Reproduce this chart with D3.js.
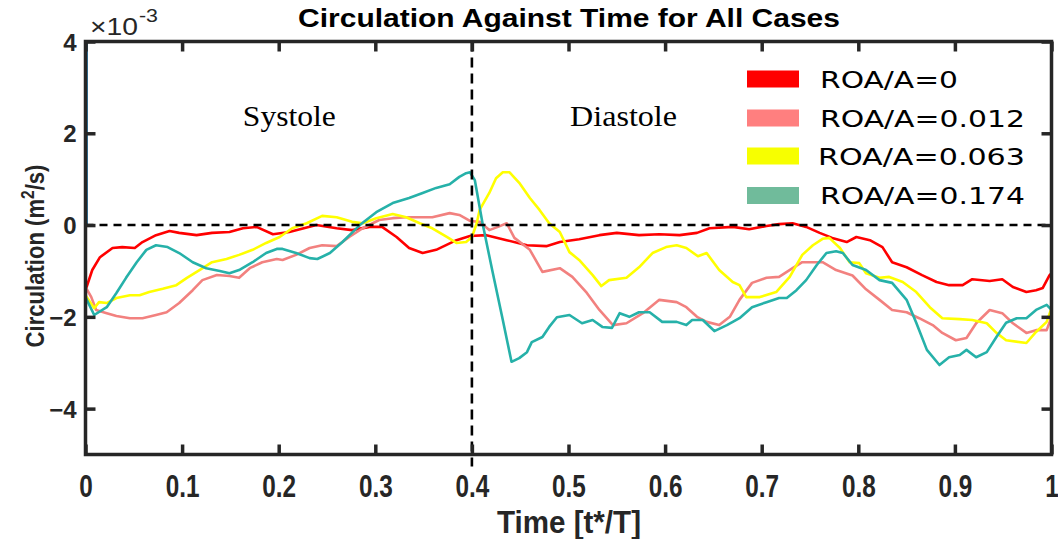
<!DOCTYPE html>
<html>
<head>
<meta charset="utf-8">
<script src="https://cdn.jsdelivr.net/npm/d3@7"></script>
<style>
  html, body { margin: 0; padding: 0; background: #ffffff; }
  svg { display: block; }
</style>
</head>
<body>
<svg id="chart" width="1058" height="539"></svg>
<script>
// ---------------- data (circulation in units of 1e-3 m^2/s vs t*/T) ----------------
const seriesNames = ["ROA/A=0", "ROA/A=0.012", "ROA/A=0.063", "ROA/A=0.174"];
const lineColors  = ["#ff0000", "#f2817f", "#ffff00", "#26b1a9"];
const legendColors = ["#ff0000", "#ff7f7f", "#f7ff00", "#70bb9b"];

const xTicks = [0, 0.1, 0.2, 0.3, 0.4, 0.5, 0.6, 0.7, 0.8, 0.9, 1];
const xTickLabels = ["0", "0.1", "0.2", "0.3", "0.4", "0.5", "0.6", "0.7", "0.8", "0.9", "1"];
const yTicks = [-4, -2, 0, 2, 4];
const yTickLabels = ["\u22124", "\u22122", "0", "2", "4"];
const phaseLabels = ["Systole", "Diastole"];
const phaseCenters = [0.211, 0.557];
const phaseSplit = 0.4;

const redData = [[0,-1.42],[.007,-0.98],[.015,-0.70],[.028,-0.50],[.038,-0.48],[.051,-0.50],[.059,-0.37],[.073,-0.22],[.087,-0.13],[.097,-0.17],[.115,-0.22],[.131,-0.17],[.149,-0.15],[.163,-0.07],[.177,-0.04],[.194,-0.20],[.211,-0.15],[.239,0.00],[.260,-0.07],[.276,-0.11],[.294,-0.04],[.307,-0.04],[.322,-0.26],[.335,-0.50],[.349,-0.61],[.363,-0.54],[.384,-0.33],[.398,-0.24],[.415,-0.22],[.436,-0.33],[.457,-0.44],[.477,-0.46],[.491,-0.37],[.511,-0.31],[.532,-0.22],[.550,-0.17],[.573,-0.22],[.594,-0.20],[.615,-0.22],[.633,-0.17],[.646,-0.07],[.670,-0.04],[.687,-0.09],[.705,-0.02],[.718,0.02],[.732,0.04],[.746,-0.04],[.760,-0.17],[.773,-0.28],[.788,-0.37],[.798,-0.26],[.812,-0.33],[.825,-0.48],[.835,-0.81],[.850,-0.92],[.866,-1.09],[.881,-1.24],[.894,-1.31],[.908,-1.31],[.918,-1.18],[.936,-1.22],[.949,-1.18],[.960,-1.35],[.974,-1.46],[.984,-1.42],[.991,-1.37],[.998,-1.09],[1.0,-1.05]];

const pinkData = [[0,-1.35],[.006,-1.57],[.011,-1.85],[.022,-1.92],[.032,-1.98],[.046,-2.03],[.059,-2.03],[.073,-1.96],[.084,-1.90],[.097,-1.70],[.111,-1.42],[.121,-1.20],[.136,-1.09],[.149,-1.11],[.159,-1.15],[.170,-0.94],[.183,-0.81],[.198,-0.74],[.204,-0.76],[.218,-0.65],[.232,-0.50],[.245,-0.44],[.260,-0.46],[.273,-0.26],[.287,-0.07],[.304,0.11],[.318,0.15],[.332,0.17],[.346,0.17],[.359,0.17],[.377,0.26],[.387,0.22],[.398,0.09],[.408,0.07],[.418,-0.11],[.427,-0.04],[.436,0.04],[.444,-0.28],[.460,-0.54],[.473,-1.02],[.491,-0.94],[.504,-1.13],[.519,-1.48],[.532,-1.85],[.546,-2.18],[.560,-2.14],[.577,-1.92],[.594,-1.63],[.612,-1.68],[.622,-1.79],[.633,-2.00],[.643,-2.11],[.656,-2.18],[.667,-2.00],[.677,-1.63],[.690,-1.26],[.705,-1.15],[.718,-1.13],[.732,-0.94],[.742,-0.81],[.763,-0.81],[.777,-0.98],[.794,-1.10],[.808,-1.40],[.822,-1.63],[.835,-1.85],[.850,-1.90],[.863,-2.03],[.877,-2.18],[.887,-2.35],[.901,-2.51],[.912,-2.46],[.922,-2.14],[.936,-1.85],[.949,-1.92],[.960,-2.14],[.974,-2.35],[.984,-2.29],[.995,-2.29],[1.0,-2.00]];

const yellowData = [[0,-1.53],[.009,-1.81],[.014,-1.68],[.022,-1.70],[.032,-1.59],[.046,-1.53],[.056,-1.53],[.066,-1.46],[.080,-1.39],[.094,-1.31],[.105,-1.15],[.118,-0.98],[.131,-0.81],[.146,-0.74],[.159,-0.65],[.173,-0.54],[.187,-0.39],[.201,-0.26],[.214,-0.07],[.229,0.04],[.245,0.20],[.260,0.17],[.276,0.07],[.287,0.04],[.301,0.15],[.318,0.24],[.332,0.17],[.346,0.04],[.359,-0.07],[.374,-0.26],[.384,-0.39],[.394,-0.37],[.400,-0.26],[.405,0.04],[.408,0.33],[.418,0.70],[.425,1.02],[.432,1.15],[.439,1.15],[.449,0.92],[.460,0.59],[.470,0.33],[.480,0.04],[.491,-0.15],[.501,-0.59],[.511,-0.76],[.525,-1.09],[.534,-1.33],[.542,-1.20],[.560,-1.15],[.573,-0.92],[.587,-0.61],[.601,-0.48],[.612,-0.44],[.622,-0.50],[.634,-0.68],[.643,-0.61],[.656,-0.98],[.670,-1.24],[.677,-1.31],[.684,-1.57],[.698,-1.57],[.715,-1.46],[.729,-1.13],[.742,-0.65],[.753,-0.44],[.763,-0.30],[.770,-0.28],[.781,-0.50],[.791,-0.81],[.801,-0.83],[.808,-1.05],[.822,-1.15],[.832,-1.13],[.846,-1.24],[.860,-1.46],[.874,-1.79],[.887,-2.03],[.905,-2.05],[.918,-2.07],[.933,-2.14],[.943,-2.35],[.953,-2.51],[.974,-2.57],[.984,-2.33],[.995,-2.11],[1.0,-1.81]];

const tealData = [[0,-1.57],[.009,-1.96],[.022,-1.79],[.032,-1.48],[.042,-1.15],[.053,-0.81],[.063,-0.54],[.073,-0.44],[.085,-0.48],[.097,-0.61],[.111,-0.81],[.125,-0.94],[.139,-1.00],[.149,-1.05],[.159,-0.98],[.173,-0.81],[.187,-0.61],[.198,-0.52],[.204,-0.52],[.218,-0.61],[.232,-0.72],[.240,-0.74],[.253,-0.61],[.266,-0.37],[.284,0.00],[.301,0.28],[.318,0.48],[.335,0.59],[.349,0.70],[.363,0.81],[.377,0.89],[.387,1.05],[.394,1.13],[.398,1.15],[.403,0.98],[.411,0.04],[.421,-0.98],[.432,-2.07],[.441,-2.98],[.449,-2.90],[.457,-2.77],[.462,-2.55],[.473,-2.44],[.480,-2.22],[.488,-2.01],[.501,-1.96],[.514,-2.14],[.525,-2.07],[.535,-2.22],[.545,-2.24],[.553,-1.92],[.563,-2.00],[.573,-1.90],[.584,-1.90],[.597,-2.11],[.612,-2.11],[.622,-2.18],[.628,-2.07],[.639,-2.07],[.651,-2.31],[.664,-2.18],[.677,-2.03],[.690,-1.79],[.705,-1.68],[.718,-1.59],[.726,-1.59],[.736,-1.42],[.746,-1.20],[.757,-0.87],[.767,-0.61],[.777,-0.57],[.784,-0.61],[.794,-0.87],[.808,-0.98],[.822,-1.20],[.835,-1.26],[.850,-1.63],[.860,-2.13],[.871,-2.72],[.884,-3.05],[.894,-2.88],[.905,-2.83],[.912,-2.72],[.922,-2.88],[.933,-2.77],[.943,-2.44],[.953,-2.13],[.964,-2.03],[.974,-2.03],[.984,-1.85],[.995,-1.74],[1.0,-1.85]];

// initial spike at t = 0 (runs off the top of the axes)
const spikeData = [[0, 4.0], [0, 0.0]];

const allSeries = [redData, pinkData, yellowData, tealData];

// ---------------- layout ----------------
const svg = d3.select("#chart");
const X0 = 85.5, X1 = 1051.5, Y0 = 41.5, Y1 = 454.5;
const x = d3.scaleLinear().domain([0, 1]).range([X0, X1]);
const y = d3.scaleLinear().domain([-5, 4]).range([Y1, Y0]);
const AX = "#262626";

// text helper: scales text horizontally to a target width
function addText(parent, o) {
  const g = parent.append("g")
    .attr("transform", `translate(${o.x},${o.y})` + (o.rotate ? ` rotate(${o.rotate})` : ""));
  const t = g.append("text")
    .attr("text-anchor", o.anchor || "start")
    .style("font-family", o.family || "'Liberation Sans', Arial, sans-serif")
    .style("font-size", o.size + "px")
    .style("font-weight", o.weight || "normal")
    .attr("fill", o.color || "#000");
  if (o.parts) {
    o.parts.forEach(p => {
      const ts = t.append("tspan").text(p.text);
      if (p.sup) ts.attr("baseline-shift", "super").style("font-size", (o.size * 0.7) + "px");
    });
  } else {
    t.text(o.text);
  }
  if (o.width) {
    const w = t.node().getBBox().width;
    if (w > 0) t.attr("transform", `scale(${o.width / w},1)`);
  }
  return t;
}

// ---------------- data lines ----------------
const line = d3.line().x(d => x(d[0])).y(d => y(d[1]));
const plot = svg.append("g");
plot.append("path").datum(spikeData).attr("d", line)
  .attr("fill", "none").attr("stroke", "#1f6f9f").attr("stroke-width", 2)
  .attr("transform", "translate(1.4,0)");
[0, 1, 2, 3].forEach(i => {
  plot.append("path").datum(allSeries[i]).attr("d", line)
    .attr("fill", "none").attr("stroke", lineColors[i])
    .attr("stroke-width", 2.6).attr("stroke-linejoin", "round");
});

// ---------------- reference dashed lines ----------------
svg.append("line")
  .attr("x1", x(0)).attr("x2", x(1)).attr("y1", y(0)).attr("y2", y(0))
  .attr("stroke", "#000").attr("stroke-width", 2.6).attr("stroke-dasharray", "8,6");
svg.append("line")
  .attr("x1", x(phaseSplit)).attr("x2", x(phaseSplit)).attr("y1", y(4)).attr("y2", y(-5) + 12)
  .attr("stroke", "#000").attr("stroke-width", 2.6).attr("stroke-dasharray", "10,6");

// ---------------- axes ----------------
const tickLen = 10;
const bottomAxis = d3.axisBottom(x).tickValues(xTicks).tickFormat((d, i) => xTickLabels[i])
  .tickSizeInner(-tickLen).tickSizeOuter(0).tickPadding(20);
const topAxis = d3.axisTop(x).tickValues(xTicks).tickFormat("").tickSizeInner(-tickLen).tickSizeOuter(0);
const leftAxis = d3.axisLeft(y).tickValues(yTicks).tickFormat((d, i) => yTickLabels[i])
  .tickSizeInner(-tickLen).tickSizeOuter(0).tickPadding(9);
const rightAxis = d3.axisRight(y).tickValues(yTicks).tickFormat("").tickSizeInner(-tickLen).tickSizeOuter(0);

function styleAxis(g) {
  g.select(".domain").remove();
  g.selectAll(".tick line").attr("stroke", AX).attr("stroke-width", 3.5);
}
const gB = svg.append("g").attr("transform", `translate(0,${Y1})`).call(bottomAxis).call(styleAxis);
const gT = svg.append("g").attr("transform", `translate(0,${Y0})`).call(topAxis).call(styleAxis);
const gL = svg.append("g").attr("transform", `translate(${X0},0)`).call(leftAxis).call(styleAxis);
const gR = svg.append("g").attr("transform", `translate(${X1},0)`).call(rightAxis).call(styleAxis);

gB.selectAll(".tick text")
  .style("font-family", "'Liberation Sans', Arial, sans-serif")
  .style("font-size", "32px").style("font-weight", "bold").attr("fill", AX)
  .attr("dy", "0.71em")
  .attr("transform", "scale(0.76,1)");
gL.selectAll(".tick text")
  .style("font-family", "'Liberation Sans', Arial, sans-serif")
  .style("font-size", "24px").style("font-weight", "bold").attr("fill", AX)
  .attr("dy", "0.36em");

// frame
svg.append("rect")
  .attr("x", X0).attr("y", Y0).attr("width", X1 - X0).attr("height", Y1 - Y0)
  .attr("fill", "none").attr("stroke", AX).attr("stroke-width", 3.5);

// ---------------- texts ----------------
addText(svg, { x: 569, y: 27, text: "Circulation Against Time for All Cases", size: 25, weight: "bold", anchor: "middle", width: 542 });
addText(svg, { x: 90, y: 35, text: "\u00d710", size: 24, width: 48, color: AX });
addText(svg, { x: 139, y: 22, text: "-3", size: 18, width: 19, color: AX });
addText(svg, { x: 44, y: 256, parts: [{ text: "Circulation (m" }, { text: "2", sup: true }, { text: "/s)" }],
  size: 25, weight: "bold", anchor: "middle", rotate: -90, color: AX, width: 183 });

addText(svg, { x: 569, y: 533, text: "Time [t*/T]", size: 32, weight: "bold", anchor: "middle", width: 144, color: AX });

phaseLabels.forEach((s, i) => {
  addText(svg, { x: x(phaseCenters[i]), y: 126, text: s, size: 29,
    family: "'Liberation Serif', 'Times New Roman', serif", anchor: "middle", width: i === 0 ? 93 : 107 });
});

// legend
const legendRowY = [79, 118, 156, 195.5];
const legendTextW = [138, 205, 207, 205];
seriesNames.forEach((s, i) => {
  svg.append("rect").attr("x", 747).attr("y", legendRowY[i] - 8.5).attr("width", 52).attr("height", 17)
    .attr("fill", legendColors[i]);
  addText(svg, { x: i === 2 ? 818 : 820, y: legendRowY[i] + 8.5, text: s, size: 23,
    family: "'DejaVu Sans', Verdana, sans-serif", width: legendTextW[i] });
});
</script>
</body>
</html>
